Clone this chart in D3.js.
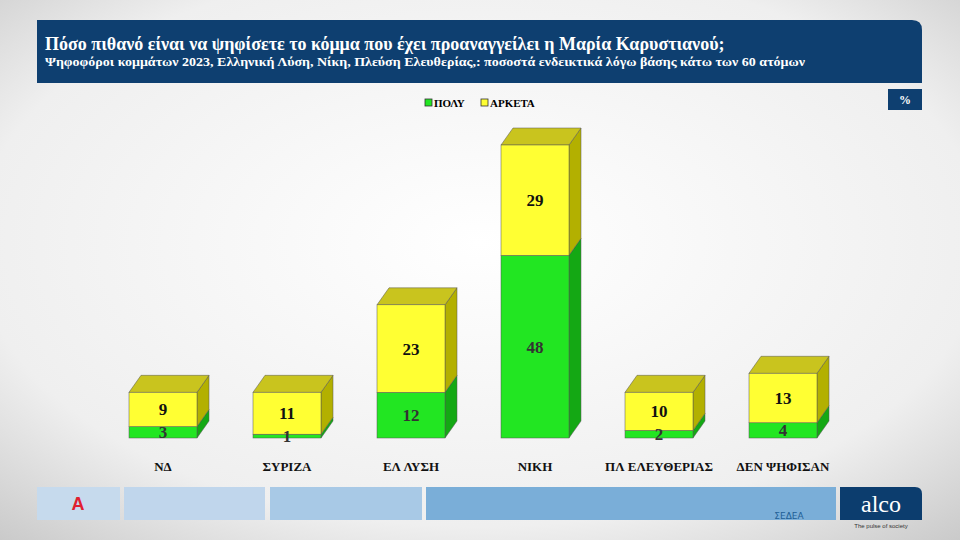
<!DOCTYPE html><html><head><meta charset="utf-8">
<script src="https://cdn.jsdelivr.net/npm/d3@7"></script>
<style>body{margin:0}svg{display:block}</style></head><body><svg width="960" height="540"></svg>
<script>
const categories=["ΝΔ","ΣΥΡΙΖΑ","ΕΛ ΛΥΣΗ","ΝΙΚΗ","ΠΛ ΕΛΕΥΘΕΡΙΑΣ","ΔΕΝ ΨΗΦΙΣΑΝ"];
const poly=[3,1,12,48,2,4];
const arketa=[9,11,23,29,10,13];
const seriesNames=["ΠΟΛΥ","ΑΡΚΕΤΑ"];
const svg=d3.select("svg");
const defs=svg.append("defs");
const g=defs.append("radialGradient").attr("id","bg").attr("cx","50%").attr("cy","45%").attr("r","75%");
g.append("stop").attr("offset","0%").attr("stop-color","#ffffff");
g.append("stop").attr("offset","70%").attr("stop-color","#efefef");
g.append("stop").attr("offset","100%").attr("stop-color","#c9c9c9");
svg.append("rect").attr("width",960).attr("height",540).attr("fill","url(#bg)");
svg.append("path").attr("d","M37,20 H912 Q922,20 922,30 V83 H37 Z").attr("fill","#0e3f70");
svg.append("text").attr("x",45).attr("y",50).attr("fill","#fff").attr("font-family","Liberation Serif").attr("font-weight","bold").attr("font-size",18).text("Πόσο πιθανό είναι να ψηφίσετε το κόμμα που έχει προαναγγείλει η Μαρία Καρυστιανού;");
svg.append("text").attr("x",45).attr("y",66).attr("fill","#fff").attr("font-family","Liberation Serif").attr("font-weight","bold").attr("font-size",13).attr("textLength",760).attr("lengthAdjust","spacingAndGlyphs").text("Ψηφοφόροι κομμάτων 2023, Ελληνική Λύση, Νίκη, Πλεύση Ελευθερίας,: ποσοστά ενδεικτικά λόγω βάσης κάτω των 60 ατόμων");
svg.append("rect").attr("x",888).attr("y",89).attr("width",34).attr("height",21).attr("fill","#0e3f70");
svg.append("text").attr("x",905).attr("y",104).attr("text-anchor","middle").attr("fill","#fff").attr("font-family","Liberation Serif").attr("font-weight","bold").attr("font-size",12).text("%");
const legCol=["#22e622","#ffff33"];
[[425,seriesNames[0]],[481,seriesNames[1]]].forEach(([x,t],i)=>{
 svg.append("rect").attr("x",x).attr("y",99).attr("width",7).attr("height",7).attr("fill",legCol[i]).attr("stroke","#333").attr("stroke-width",0.8);
 svg.append("text").attr("x",x+9).attr("y",107).attr("font-family","Liberation Serif").attr("font-weight","bold").attr("font-size",11).text(t);
});
const x=d3.scalePoint().domain(categories).range([101,845]).padding(0.5);
const y=d3.scaleLinear().domain([0,77]).range([438,145]);
const W=68,dx=12,dy=17;
const cols={g:{f:"#22e622",t:"#66f066",s:"#14a814"},y:{f:"#ffff33",t:"#c9c41e",s:"#b3b000"}};
function block(x0,y0,y1,c,top){
 const h=y0-y1;
 svg.append("path").attr("d",`M${x0+W},${y0} L${x0+W+dx},${y0-dy} L${x0+W+dx},${y1-dy} L${x0+W},${y1} Z`).attr("fill",c.s).attr("stroke","#555").attr("stroke-width",0.5);
 if(top)svg.append("path").attr("d",`M${x0},${y1} L${x0+dx},${y1-dy} L${x0+W+dx},${y1-dy} L${x0+W},${y1} Z`).attr("fill",c.t).attr("stroke","#555").attr("stroke-width",0.5);
 svg.append("rect").attr("x",x0).attr("y",y1).attr("width",W).attr("height",h).attr("fill",c.f).attr("stroke","#555").attr("stroke-width",0.5);
}
categories.forEach((c,i)=>{
 const x0=x(c)-W/2;
 block(x0,y(0),y(poly[i]),cols.g,false);
 block(x0,y(poly[i]),y(poly[i]+arketa[i]),cols.y,true);
 svg.append("text").attr("x",x(c)).attr("y",(y(0)+y(poly[i]))/2+6).attr("text-anchor","middle").attr("font-family","Liberation Serif").attr("font-weight","bold").attr("font-size",17).attr("fill","#333").text(poly[i]);
 svg.append("text").attr("x",x(c)).attr("y",(y(poly[i])+y(poly[i]+arketa[i]))/2+6).attr("text-anchor","middle").attr("font-family","Liberation Serif").attr("font-weight","bold").attr("font-size",17).attr("fill","#111").text(arketa[i]);
 svg.append("text").attr("x",x(c)).attr("y",471).attr("text-anchor","middle").attr("font-family","Liberation Serif").attr("font-weight","bold").attr("font-size",13).attr("fill","#111").text(c);
});
[[37,83,"#c6daed"],[124,141,"#c0d6ec"],[270,152,"#a8c9e6"],[426,410,"#7aaed8"]].forEach(([a,w,c])=>svg.append("rect").attr("x",a).attr("y",487).attr("width",w).attr("height",33).attr("fill",c));
svg.append("text").attr("x",78).attr("y",510).attr("text-anchor","middle").attr("fill","#e02030").attr("font-family","Liberation Sans").attr("font-weight","bold").attr("font-size",18).text("Α");
svg.append("text").attr("x",789).attr("y",519).attr("text-anchor","middle").attr("fill","#1e5f96").attr("font-family","DejaVu Sans").attr("font-size",9).text("ΣΕΔΕΑ");
svg.append("path").attr("d","M840,487 H915 Q922,487 922,494 V520 H840 Z").attr("fill","#0c3d6e");
svg.append("text").attr("x",881).attr("y",512).attr("text-anchor","middle").attr("fill","#fff").attr("font-family","Liberation Serif").attr("font-size",24).text("alco");
svg.append("text").attr("x",881).attr("y",528).attr("text-anchor","middle").attr("fill","#333").attr("font-family","Liberation Sans").attr("font-size",6).text("The pulse of society");
</script></body></html>
